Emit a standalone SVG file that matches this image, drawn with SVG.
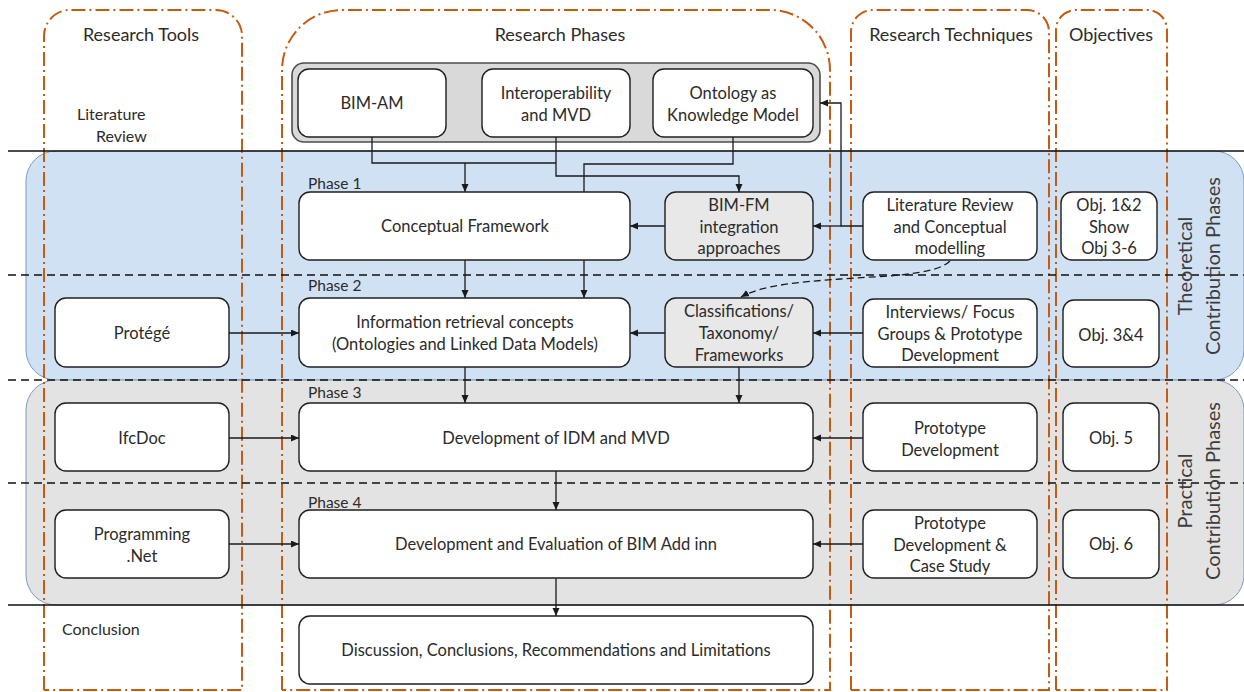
<svg xmlns="http://www.w3.org/2000/svg" width="1244" height="692" viewBox="0 0 1244 692">
  <defs>
    <marker id="arr" markerUnits="userSpaceOnUse" markerWidth="9" markerHeight="8" refX="8" refY="3.5" orient="auto">
      <path d="M0,0 L8,3.5 L0,7 z" fill="#1a1a1a"/>
    </marker>
    <style>
      text { font-family: Lato, "Liberation Sans", sans-serif; font-weight: 400; fill: #2b2b2b; }
      .box { fill: #ffffff; stroke: #1f1f1f; stroke-width: 1.4; }
      .gbox { fill: #e8e8e8; stroke: #1f1f1f; stroke-width: 1.4; }
      .t { font-size: 16.5px; text-anchor: middle; dominant-baseline: central; }
      .hd { font-size: 18px; text-anchor: middle; }
      .ph { font-size: 15.5px; }
      .lb { font-size: 16px; }
      .side { font-size: 20px; text-anchor: middle; fill: #3c3c3c; }
      .col { fill: none; stroke: #c55a11; stroke-width: 2; stroke-dasharray: 14 4 2 4; }
      .sep { stroke: #111; stroke-width: 1.5; }
      .dsh { stroke: #111; stroke-width: 1.5; stroke-dasharray: 8 5; }
      .c { fill: none; stroke: #1a1a1a; stroke-width: 1.3; marker-end: url(#arr); }
      .cn { fill: none; stroke: #1a1a1a; stroke-width: 1.3; }
    </style>
  </defs>

  <rect width="1244" height="692" fill="#ffffff"/>

  <!-- contribution bands -->
  <g id="bands">
    <path d="M56,151 H1214 A30,30 0 0 1 1244,181 V350 A30,30 0 0 1 1214,380 H56 A30,30 0 0 1 26,350 V181 A30,30 0 0 1 56,151 Z" fill="#d0e1f4" stroke="#7d9cc0" stroke-width="1"/>
    <path d="M56,380 H1214 A30,30 0 0 1 1244,410 V575 A30,30 0 0 1 1214,605 H56 A30,30 0 0 1 26,575 V410 A30,30 0 0 1 56,380 Z" fill="#e3e3e3" stroke="#7d9cc0" stroke-width="1"/>
  </g>

  <!-- column frames -->
  <g id="columns">
    <path class="col" d="M44,690 V36 A26,26 0 0 1 70,10 H216 A26,26 0 0 1 242,36 V690 H44"/>
    <path class="col" d="M282,690 V70 A60,60 0 0 1 342,10 H770 A60,60 0 0 1 830,70 V690 H282"/>
    <path class="col" d="M851,690 V32 A22,22 0 0 1 873,10 H1027 A22,22 0 0 1 1049,32 V690 H851"/>
    <path class="col" d="M1056,690 V30 A20,20 0 0 1 1076,10 H1147 A20,20 0 0 1 1167,30 V690 H1056"/>
  </g>

  <!-- row separators -->
  <g id="separators">
    <line class="sep" x1="8" y1="151" x2="1244" y2="151"/>
    <line class="sep" x1="8" y1="605" x2="1244" y2="605"/>
    <line class="dsh" x1="8" y1="275" x2="1244" y2="275"/>
    <line class="dsh" x1="8" y1="380" x2="1244" y2="380"/>
    <line class="dsh" x1="8" y1="483" x2="1244" y2="483"/>
  </g>

  <!-- headings and row labels -->
  <g id="labels">
    <text class="hd" x="141" y="41">Research Tools</text>
    <text class="hd" x="560" y="41">Research Phases</text>
    <text class="hd" x="951" y="41">Research Techniques</text>
    <text class="hd" x="1111" y="41">Objectives</text>
    <text class="lb" x="77" y="120">Literature</text>
    <text class="lb" x="96" y="142">Review</text>
    <text class="lb" x="62" y="635">Conclusion</text>
    <text class="ph" x="308" y="189">Phase 1</text>
    <text class="ph" x="308" y="291">Phase 2</text>
    <text class="ph" x="308" y="398">Phase 3</text>
    <text class="ph" x="308" y="508">Phase 4</text>
    <g transform="translate(1206,266) rotate(-90)">
      <text class="side" x="0" y="-14">Theoretical</text>
      <text class="side" x="0" y="14">Contribution Phases</text>
    </g>
    <g transform="translate(1206,491) rotate(-90)">
      <text class="side" x="0" y="-14">Practical</text>
      <text class="side" x="0" y="14">Contribution Phases</text>
    </g>
  </g>

  <!-- literature review group -->
  <g id="literature">
    <rect x="292" y="63" width="528" height="79" rx="12" fill="#d9d9d9" stroke="#4d4d4d" stroke-width="1.6"/>
    <g id="bim-am">
      <rect class="box" x="298" y="69" width="148" height="68" rx="11"/>
      <text class="t" x="372" y="103">BIM-AM</text>
    </g>
    <g id="interop">
      <rect class="box" x="482" y="69" width="148" height="68" rx="11"/>
      <text class="t" x="556" y="93">Interoperability</text>
      <text class="t" x="556" y="115">and MVD</text>
    </g>
    <g id="ontology">
      <rect class="box" x="653" y="69" width="160" height="68" rx="11"/>
      <text class="t" x="733" y="93">Ontology as</text>
      <text class="t" x="733" y="115">Knowledge Model</text>
    </g>
  </g>

  <!-- connectors -->
  <g id="connectors">
    <path class="cn" d="M372,137 V163 H556"/>
    <path class="c" d="M556,137 V176 H739 V192"/>
    <path class="c" d="M465,163 V192"/>
    <path class="c" d="M733,137 V164 H584 V298"/>
    <path class="c" d="M863,226 H841 V103 H820"/>
    <path class="c" d="M841,226 H813"/>
    <path class="c" d="M665,226 H630"/>
    <path class="c" d="M465,260 V298"/>
    <path class="c" d="M950,261 C935,276 880,276 840,279 C800,282 762,285 741,297" stroke-dasharray="7 4"/>
    <path class="c" d="M863,333 H813"/>
    <path class="c" d="M665,333 H630" stroke="#555"/>
    <path class="c" d="M229,333 H299"/>
    <path class="c" d="M465,367 V403"/>
    <path class="c" d="M739,367 V403" stroke-width="2"/>
    <path class="c" d="M229,438 H299"/>
    <path class="c" d="M863,438 H813"/>
    <path class="c" d="M556,471 V510"/>
    <path class="c" d="M229,544 H299" stroke="#444"/>
    <path class="c" d="M863,544 H813"/>
    <path class="c" d="M556,578 V616"/>
  </g>

  <!-- phase 1 -->
  <g id="conceptual-framework">
    <rect class="box" x="299" y="192" width="331" height="68" rx="11"/>
    <text class="t" x="465" y="226">Conceptual Framework</text>
  </g>
  <g id="bim-fm">
    <rect class="gbox" x="665" y="192" width="148" height="68" rx="11"/>
    <text class="t" x="739" y="205">BIM-FM</text>
    <text class="t" x="739" y="227">integration</text>
    <text class="t" x="739" y="248">approaches</text>
  </g>
  <g id="lit-review-tech">
    <rect class="box" x="863" y="192" width="174" height="68" rx="11"/>
    <text class="t" x="950" y="205">Literature Review</text>
    <text class="t" x="950" y="227">and Conceptual</text>
    <text class="t" x="950" y="248">modelling</text>
  </g>
  <g id="obj-1-2">
    <rect class="box" x="1061" y="192" width="96" height="68" rx="11"/>
    <text class="t" x="1109" y="205">Obj. 1&amp;2</text>
    <text class="t" x="1109" y="227">Show</text>
    <text class="t" x="1109" y="248">Obj 3-6</text>
  </g>

  <!-- phase 2 -->
  <g id="protege">
    <rect class="box" x="55" y="298" width="174" height="69" rx="11"/>
    <text class="t" x="142" y="333">Protégé</text>
  </g>
  <g id="info-retrieval">
    <rect class="box" x="299" y="298" width="331" height="69" rx="11"/>
    <text class="t" x="465" y="322">Information retrieval concepts</text>
    <text class="t" x="465" y="344">(Ontologies and Linked Data Models)</text>
  </g>
  <g id="classifications">
    <rect class="gbox" x="665" y="298" width="148" height="69" rx="11"/>
    <text class="t" x="739" y="311">Classifications/</text>
    <text class="t" x="739" y="333">Taxonomy/</text>
    <text class="t" x="739" y="355">Frameworks</text>
  </g>
  <g id="interviews">
    <rect class="box" x="863" y="299" width="174" height="68" rx="11"/>
    <text class="t" x="950" y="312">Interviews/ Focus</text>
    <text class="t" x="950" y="334">Groups &amp; Prototype</text>
    <text class="t" x="950" y="355">Development</text>
  </g>
  <g id="obj-3-4">
    <rect class="box" x="1063" y="300" width="96" height="67" rx="11"/>
    <text class="t" x="1111" y="335">Obj. 3&amp;4</text>
  </g>

  <!-- phase 3 -->
  <g id="ifcdoc">
    <rect class="box" x="55" y="403" width="174" height="68" rx="11"/>
    <text class="t" x="142" y="438">IfcDoc</text>
  </g>
  <g id="idm-mvd">
    <rect class="box" x="299" y="403" width="514" height="68" rx="11"/>
    <text class="t" x="556" y="438">Development of IDM and MVD</text>
  </g>
  <g id="prototype-dev">
    <rect class="box" x="863" y="403" width="174" height="68" rx="11"/>
    <text class="t" x="950" y="428">Prototype</text>
    <text class="t" x="950" y="450">Development</text>
  </g>
  <g id="obj-5">
    <rect class="box" x="1063" y="403" width="96" height="68" rx="11"/>
    <text class="t" x="1111" y="438">Obj. 5</text>
  </g>

  <!-- phase 4 -->
  <g id="programming">
    <rect class="box" x="55" y="510" width="174" height="68" rx="11"/>
    <text class="t" x="142" y="534">Programming</text>
    <text class="t" x="142" y="556">.Net</text>
  </g>
  <g id="bim-add-in">
    <rect class="box" x="299" y="510" width="514" height="68" rx="11"/>
    <text class="t" x="556" y="544">Development and Evaluation of BIM Add inn</text>
  </g>
  <g id="prototype-case">
    <rect class="box" x="863" y="510" width="174" height="68" rx="11"/>
    <text class="t" x="950" y="523">Prototype</text>
    <text class="t" x="950" y="545">Development &amp;</text>
    <text class="t" x="950" y="566">Case Study</text>
  </g>
  <g id="obj-6">
    <rect class="box" x="1063" y="510" width="96" height="68" rx="11"/>
    <text class="t" x="1111" y="544">Obj. 6</text>
  </g>

  <!-- conclusion -->
  <g id="discussion">
    <rect class="box" x="299" y="616" width="514" height="68" rx="11"/>
    <text class="t" x="556" y="650">Discussion, Conclusions, Recommendations and Limitations</text>
  </g>
</svg>
